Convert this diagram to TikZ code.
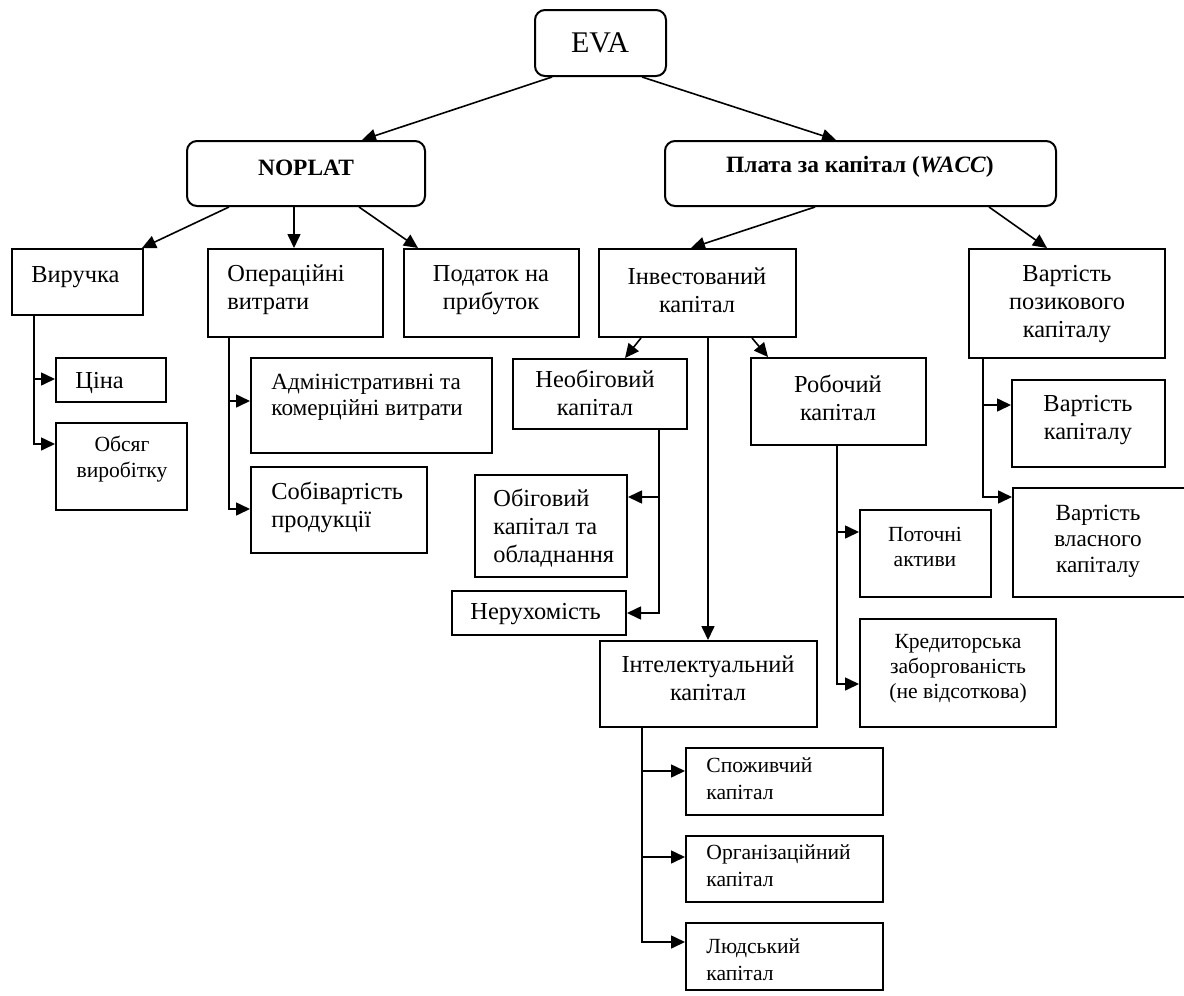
\documentclass[tikz,border=0pt]{standalone}
\usepackage{fontspec}
\setmainfont{Liberation Serif}
\usetikzlibrary{arrows.meta,fit,calc}
\tikzset{
  box/.style={draw, line width=1pt, inner sep=0pt, fill=white},
  rbox/.style={box, rounded corners=5pt},
  conn/.style={draw, line width=0.8pt, -{Triangle[length=7pt,width=6.5pt]}},
  txt/.style={inner sep=0pt, font=\fontsize{12.2}{14}\selectfont},
  mtxt/.style={inner sep=0pt, font=\fontsize{11.6}{13}\selectfont},
  stxt/.style={inner sep=0pt, font=\fontsize{10.8}{12.6}\selectfont},
  sstxt/.style={inner sep=0pt, font=\fontsize{10.8}{13.5}\selectfont},
  btxt/.style={inner sep=0pt, font=\fontsize{11.7}{13}\selectfont\bfseries},
  lt/.style={align=left, anchor=west},
  ct/.style={align=center, anchor=center}
}
\begin{document}
\begin{tikzpicture}[x=0.5pt,y=-0.5pt]
\useasboundingbox (0,0) rectangle (1184,996);
% boxes
\node[rbox, fit={(535,10) (666,76)}] (eva) {};
\node[rbox, fit={(187,141) (425,206)}] (noplat) {};
\node[rbox, fit={(665,141) (1056,206)}] (plata) {};
\node[box, fit={(12,249) (143,315)}] (vyr) {};
\node[box, fit={(208,249) (383,337)}] (oper) {};
\node[box, fit={(404,249) (579,337)}] (podat) {};
\node[box, fit={(56,358) (166,402)}] (cina) {};
\node[box, fit={(56,423) (187,510)}] (obsyag) {};
\node[box, fit={(251,358) (492,453)}] (admin) {};
\node[box, fit={(251,467) (427,553)}] (sobiv) {};
\node[box, fit={(599,249) (796,337)}] (invest) {};
\node[box, fit={(969,249) (1165,358)}] (pozyk) {};
\node[box, fit={(513,359) (687,429)}] (neob) {};
\node[box, fit={(751,358) (926,445)}] (roboch) {};
\node[box, fit={(1012,380) (1165,467)}] (vkap) {};
\node[box, fit={(1013,488) (1195,597)}] (vvlas) {};
\node[box, fit={(475,475) (627,577)}] (obig) {};
\node[box, fit={(452,591) (626,635)}] (neruh) {};
\node[box, fit={(600,641) (817,727)}] (intel) {};
\node[box, fit={(860,510) (991,597)}] (potoch) {};
\node[box, fit={(860,619) (1056,727)}] (kred) {};
\node[box, fit={(686,748) (883,815)}] (spozh) {};
\node[box, fit={(686,836) (883,902)}] (org) {};
\node[box, fit={(686,923) (883,990)}] (lyud) {};
% texts
\node[inner sep=0pt, font=\fontsize{15}{17}\selectfont] (eva-t) at (600,43) {EVA};
\node[btxt, ct] (noplat-t) at (306,168) {NOPLAT};
\node[btxt, ct] (plata-t) at (860,167) {Плата за капітал (\textit{WACC})};
\node[txt, lt] (vyr-t) at (31,277) {Виручка};
\node[txt, lt] (oper-t) at (227,290) {Операційні\\витрати};
\node[txt, ct] (podat-t) at (491,290) {Податок на\\прибуток};
\node[txt, lt] (cina-t) at (75,383) {Ціна};
\node[stxt, ct] (obsyag-t) at (122,459) {Обсяг\\виробітку};
\node[mtxt, lt] (admin-t) at (271,397) {Адміністративні та\\комерційні витрати};
\node[txt, lt] (sobiv-t) at (271,507) {Собівартість\\продукції};
\node[txt, ct] (invest-t) at (697,290) {Інвестований\\капітал};
\node[txt, ct] (pozyk-t) at (1067,304) {Вартість\\позикового\\капіталу};
\node[txt, ct] (neob-t) at (595,393) {Необіговий\\капітал};
\node[txt, ct] (roboch-t) at (838,398) {Робочий\\капітал};
\node[txt, ct] (vkap-t) at (1088,420) {Вартість\\капіталу};
\node[mtxt, ct] (vvlas-t) at (1098,541) {Вартість\\власного\\капіталу};
\node[txt, lt] (obig-t) at (493,528) {Обіговий\\капітал та\\обладнання};
\node[txt, lt] (neruh-t) at (470,614) {Нерухомість};
\node[txt, ct] (intel-t) at (708,678) {Інтелектуальний\\капітал};
\node[stxt, ct] (potoch-t) at (925,547) {Поточні\\активи};
\node[stxt, ct] (kred-t) at (958,669) {Кредиторська\\заборгованість\\(не відсоткова)};
\node[sstxt, lt] (spozh-t) at (706,779) {Споживчий\\капітал};
\node[sstxt, lt] (org-t) at (706,866) {Організаційний\\капітал};
\node[sstxt, lt] (lyud-t) at (706,960) {Людський\\капітал};
% top-level connectors
\draw[conn] ($(eva.south west)+(18,0)$) -- ($(noplat.north west)+(176,0)$);
\draw[conn] ($(eva.south west)+(108,0)$) -- ($(plata.north west)+(172,0)$);
\draw[conn] ($(noplat.south west)+(43,0)$) -- ($(vyr.north east)+(-2,0)$);
\draw[conn] ($(noplat.south west)+(108,0)$) -- ($(oper.north west)+(87,0)$);
\draw[conn] ($(noplat.south west)+(173,0)$) -- ($(podat.north west)+(15,0)$);
\draw[conn] ($(plata.south west)+(151,0)$) -- ($(invest.north west)+(93,0)$);
\draw[conn] ($(plata.south west)+(325,0)$) -- ($(pozyk.north west)+(79,0)$);
\draw[conn] ($(invest.south west)+(43,0)$) -- ($(neob.north west)+(113,0)$);
\draw[conn] ($(invest.south west)+(154,0)$) -- ($(roboch.north west)+(18,0)$);
\draw[conn] ($(invest.south west)+(110,0)$) -- ($(intel.north west)+(109,0)$);
% bracket connectors
\draw[conn] ($(vyr.south west)+(23,0)$) |- ($(cina.north west)+(0,22)$);
\draw[conn] ($(vyr.south west)+(23,0)$) |- ($(obsyag.north west)+(0,22)$);
\draw[conn] ($(oper.south west)+(22,0)$) |- ($(admin.north west)+(0,44)$);
\draw[conn] ($(oper.south west)+(22,0)$) |- ($(sobiv.north west)+(0,43)$);
\draw[conn] ($(neob.south west)+(147,0)$) |- ($(obig.north east)+(0,23)$);
\draw[conn] ($(neob.south west)+(147,0)$) |- ($(neruh.north east)+(0,23)$);
\draw[conn] ($(roboch.south west)+(87,0)$) |- ($(potoch.north west)+(0,23)$);
\draw[conn] ($(roboch.south west)+(87,0)$) |- ($(kred.north west)+(0,66)$);
\draw[conn] ($(pozyk.south west)+(15,0)$) |- ($(vkap.north west)+(0,26)$);
\draw[conn] ($(pozyk.south west)+(15,0)$) |- ($(vvlas.north west)+(0,10)$);
\draw[conn] ($(intel.south west)+(43,0)$) |- ($(spozh.north west)+(0,24)$);
\draw[conn] ($(intel.south west)+(43,0)$) |- ($(org.north west)+(0,22)$);
\draw[conn] ($(intel.south west)+(43,0)$) |- ($(lyud.north west)+(0,20)$);
\end{tikzpicture}
\end{document}
